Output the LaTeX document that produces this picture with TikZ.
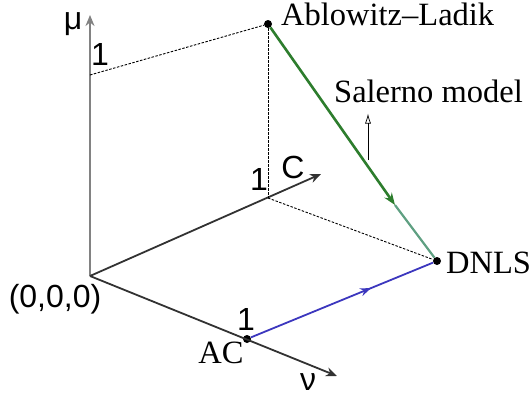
\documentclass[tikz,border=0pt]{standalone}
\usepackage{fontspec}
\setmainfont{Liberation Serif}
\newfontfamily\arialf{Liberation Sans}
\usetikzlibrary{arrows.meta,decorations.markings}
\definecolor{axgray}{RGB}{130,130,130}
\definecolor{axdark}{RGB}{50,50,50}
\definecolor{gdark}{RGB}{45,125,45}
\definecolor{glight}{RGB}{95,160,130}
\definecolor{bline}{RGB}{60,55,190}
\begin{document}
\begin{tikzpicture}[x=1pt,y=-1pt,
 dot/.style={circle,fill=black,inner sep=0pt,minimum size=8pt},
 lbl/.style={inner sep=0pt,font=\fontsize{32.5}{38}\selectfont},
 slbl/.style={inner sep=0pt,font=\arialf\fontsize{32}{38}\selectfont},
 axis/.style={draw=axdark,line width=1.8pt,-{Stealth[length=11pt,width=9pt]}},
 guide/.style={draw=black,line width=0.9pt,dash pattern=on 2.5pt off 1.5pt},
 midarrow/.style={postaction={decorate},decoration={markings,mark=at position #1 with {\arrow{Stealth[length=11pt,width=8pt]}}}}
]
\useasboundingbox (0,0) rectangle (531,397);
% points
\coordinate (O) at (90,276);
\coordinate (Mtip) at (90,15);
\coordinate (Ctip) at (321,174);
\coordinate (Ntip) at (337,376);
\coordinate (M1) at (90,75);
\coordinate (C1) at (268,198);
\coordinate (G) at (395,205);
\node[dot] (AL) at (268,24) {};
\node[dot] (DNLS) at (437,261) {};
\node[dot] (AC) at (247,339) {};
% axes
\draw[axis,draw=axgray,line width=2.8pt] (O) -- (Mtip);
\draw[axis] (O) -- (Ctip);
\draw[axis] (O) -- (Ntip);
% guides
\draw[guide] (M1) -- (AL);
\draw[guide] (AL) -- (C1);
\draw[guide] (C1) -- (DNLS);
% model lines
\draw[draw=gdark,line width=2.6pt,-{Stealth[length=12pt,width=9pt]}] (AL) -- (G);
\draw[draw=glight,line width=2.2pt] (G) -- (DNLS);
\draw[draw=bline,line width=1.8pt,midarrow=0.66] (AC) -- (DNLS);
% labels
\node[slbl,anchor=base] (mu) at (73,29) {μ};
\node[slbl,anchor=base] (one1) at (100,65) {1};
\node[slbl,anchor=base] (one2) at (259,190) {1};
\node[slbl,anchor=base] (clab) at (293,178) {C};
\node[slbl,anchor=base] (one3) at (246,330) {1};
\node[slbl,anchor=base] (orig) at (55,307) {(0,0,0)};
\node[lbl,anchor=base west] (allab) at (281,25) {Ablowitz–Ladik};
\node[lbl,anchor=base west] (salerno) at (334,102) {Salerno model};
\node[lbl,anchor=base west] (dnlslab) at (446,273) {DNLS};
\node[lbl,anchor=base] (aclab) at (221,363) {AC};
\node[slbl,anchor=base] (nu) at (308,390) {ν};
% Salerno pointer
\coordinate (sa) at (368,160);
\draw[line width=0.7pt,-{Latex[open,length=10pt,width=6pt]},shorten >=11pt] (sa) -- (sa |- salerno.south);
\end{tikzpicture}
\end{document}
